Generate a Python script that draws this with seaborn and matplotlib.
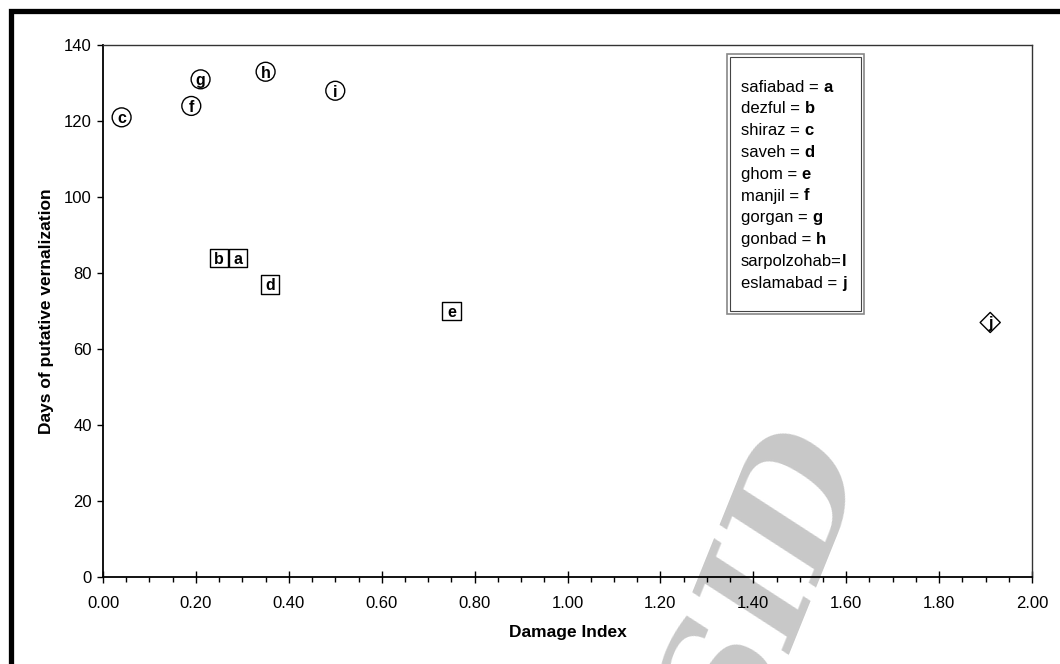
import pandas as pd
import matplotlib.pyplot as plt
import seaborn as sns
from matplotlib.patches import Rectangle
from matplotlib.text import Annotation
from matplotlib.ticker import MultipleLocator, FormatStrFormatter

# site letters, damage index and days of vernalization
letters = ['a', 'b', 'c', 'd', 'e', 'f', 'g', 'h', 'i', 'j']
damage = [0.29, 0.25, 0.04, 0.36, 0.75, 0.19, 0.21, 0.35, 0.50, 1.91]
days = [84, 84, 121, 77, 70, 124, 131, 133, 128, 67]
shape = ['box', 'box', 'ring', 'box', 'box', 'ring', 'ring', 'ring', 'ring', 'diamond']

legend_names = ['safiabad = ', 'dezful = ', 'shiraz = ', 'saveh = ', 'ghom = ',
                'manjil = ', 'gorgan = ', 'gonbad = ', 'sarpolzohab=', 'eslamabad = ']
legend_letters = ['a', 'b', 'c', 'd', 'e', 'f', 'g', 'h', 'l', 'j']

sns.set_style('white')
plt.rcParams['font.family'] = ['Liberation Sans', 'DejaVu Sans']
plt.rcParams.update({'text.color': 'black', 'axes.labelcolor': 'black',
                     'xtick.color': 'black', 'ytick.color': 'black'})

df = pd.DataFrame({'Damage': damage, 'Days': days, 'Shape': shape, 'Letter': letters})

fig = plt.figure(figsize=(10.6, 6.64), dpi=100)
ax = fig.add_axes([0.0972, 0.131, 0.8764, 0.801])
ax.set_facecolor('none')

sns.scatterplot(data=df, x='Damage', y='Days', style='Shape', size='Shape',
                markers={'box': 's', 'ring': 'o', 'diamond': 'D'},
                sizes={'box': 175, 'ring': 185, 'diamond': 105},
                color='white', edgecolor='black', linewidth=1.0,
                legend=False, ax=ax, zorder=3)

for _, row in df.iterrows():
    ax.text(row['Damage'], row['Days'], row['Letter'], ha='center', va='center_baseline',
            fontsize=11.5, fontweight='bold', zorder=4)

ax.set_xlim(0, 2.0)
ax.set_ylim(0, 140)
ax.xaxis.set_major_locator(MultipleLocator(0.2))
ax.xaxis.set_minor_locator(MultipleLocator(0.05))
ax.xaxis.set_major_formatter(FormatStrFormatter('%.2f'))
ax.yaxis.set_major_locator(MultipleLocator(20))

ax.tick_params(axis='x', which='major', direction='inout', length=8, width=1,
               labelsize=12, pad=10, bottom=True)
ax.tick_params(axis='x', which='minor', direction='out', length=3.5, width=1, bottom=True)
ax.tick_params(axis='y', which='major', direction='out', length=4, width=1,
               labelsize=12, pad=4, left=True)

for side in ['left', 'bottom']:
    ax.spines[side].set_color('black')
    ax.spines[side].set_linewidth(1.3)
for side in ['top', 'right']:
    ax.spines[side].set_color('#333333')
    ax.spines[side].set_linewidth(1.0)

ax.set_xlabel('Damage Index', fontsize=12.5, fontweight='bold', labelpad=10)
ax.set_ylabel('Days of putative vernalization', fontsize=12.5, fontweight='bold', labelpad=7)

# legend box listing the site letters
fig.add_artist(Rectangle((727 / 1060, 1 - 314 / 664), 137 / 1060, 260 / 664,
                         transform=fig.transFigure, fill=True, facecolor='white',
                         edgecolor='#888888', linewidth=1.2, zorder=5))
fig.add_artist(Rectangle((730 / 1060, 1 - 311 / 664), 131 / 1060, 254 / 664,
                         transform=fig.transFigure, fill=False,
                         edgecolor='#444444', linewidth=0.8, zorder=5))
for i, (name, let) in enumerate(zip(legend_names, legend_letters)):
    y = 1 - (87 + i * 21.8) / 664
    t = fig.text(741 / 1060, y, name, fontsize=12, va='center', ha='left', zorder=6)
    fig.add_artist(Annotation(let, xy=(1, 0), xycoords=t, ha='left', va='bottom',
                              fontsize=12, fontweight='bold', zorder=6))

# watermark, behind the axes
fig.text(768 / 1060, 1 - 588 / 664, 'SID', rotation=68, fontsize=112, color='#c8c8c8',
         family='DejaVu Serif', fontweight='bold', style='italic',
         ha='center', va='center', zorder=-1)

# outer frame (cut off at the right and bottom)
fig.add_artist(Rectangle((10.5 / 1060, -0.1), 1.2, 1 - 11 / 664 + 0.1,
                         transform=fig.transFigure, fill=False,
                         edgecolor='black', linewidth=3.8, zorder=10))

fig.savefig('out.png', dpi=100)
